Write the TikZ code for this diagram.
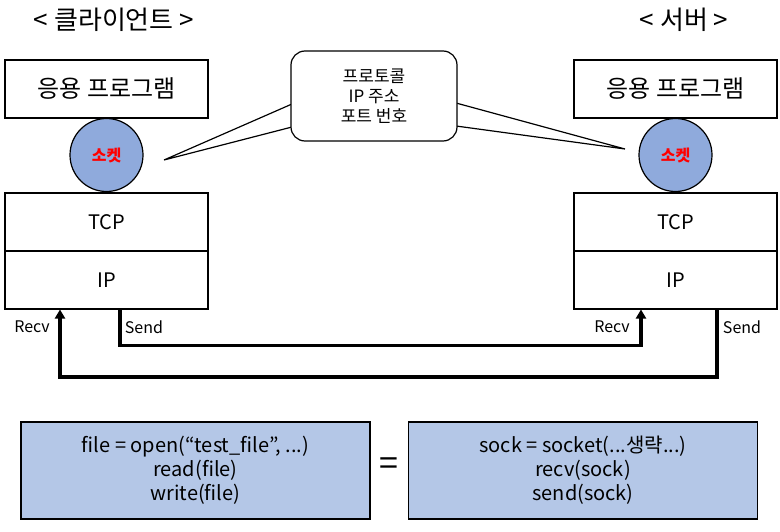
\documentclass[tikz,border=0pt]{standalone}
\usepackage{fontspec}
\setmainfont{Noto Sans CJK KR}
\usetikzlibrary{arrows.meta}
\definecolor{sockblue}{HTML}{8FAADC}
\definecolor{codeblue}{HTML}{B4C7E7}
\definecolor{sockred}{HTML}{FF0000}
\tikzset{
  layerbox/.style={draw=black, line width=1.2pt, minimum width=203pt, minimum height=58pt, inner sep=0pt, font=\fontsize{20}{24}\selectfont},
  korbox/.style={layerbox, font=\fontsize{24}{28}\selectfont},
  sockcircle/.style={circle, draw=black, line width=1.2pt, fill=sockblue, minimum size=73pt, inner sep=0pt, font=\bfseries\fontsize{16}{18}\selectfont, text=sockred},
  codebox/.style={draw=black, line width=1.2pt, fill=codeblue, minimum width=349pt, minimum height=97pt, inner sep=0pt, align=center, font=\fontsize{20}{24}\selectfont},
  titletext/.style={font=\fontsize{26}{30}\selectfont},
  lbl/.style={font=\fontsize{16}{18}\selectfont},
  flow/.style={line width=3.5pt, -{Triangle[length=9pt,width=10pt]}},
  callout/.style={draw=black, line width=1.2pt, fill=white, rounded corners=14pt, minimum width=166pt, minimum height=90pt, align=center, font=\fontsize{17}{20}\selectfont},
  tail/.style={draw=black, line width=1.2pt}
}
\begin{document}
\begin{tikzpicture}[x=1pt, y=-1pt]
\useasboundingbox (0,0) rectangle (780,532);
% titles
\node[titletext] (tc) at (114,20) {< 클라이언트 >};
\node[titletext] (ts) at (684,20) {< 서버 >};
% client stack
\node[korbox] (capp) at (106.5,89) {응용 프로그램};
\node[layerbox] (ctcp) at (106.5,222) {TCP};
\node[layerbox] (cip) at (106.5,280) {IP};
\node[sockcircle] (csock) at (106.5,155) {소켓};
% server stack
\node[korbox] (sapp) at (675.5,89) {응용 프로그램};
\node[layerbox] (stcp) at (675.5,222) {TCP};
\node[layerbox] (sip) at (675.5,280) {IP};
\node[sockcircle] (ssock) at (675.5,155) {소켓};
% callout tails
\coordinate (ctip) at (164,160);
\coordinate (stip) at (625,149);
\coordinate (cl1) at (292,104);
\coordinate (cl2) at (292,127);
\coordinate (cr1) at (456,103);
\coordinate (cr2) at (456,126);
\draw[tail] (cl1) -- (ctip) -- (cl2);
\draw[tail] (cr1) -- (stip) -- (cr2);
\node[callout] (info) at (374,96) {프로토콜\\IP 주소\\포트 번호};
% flow lines
\coordinate (csend) at (120,309.5);
\coordinate (crecv) at (60,309.5);
\coordinate (srecv) at (641,309.5);
\coordinate (ssend) at (717,309.5);
\draw[flow] (csend) |- (380,345.5) -| (srecv);
\draw[flow] (ssend) |- (380,377) -| (crecv);
\node[lbl] (lrc) at (32,327) {Recv};
\node[lbl] (lsc) at (144,327) {Send};
\node[lbl] (lrs) at (612,327) {Recv};
\node[lbl] (lss) at (742,327) {Send};
% code boxes
\node[codebox] (filebox) at (195.5,470.5) {file = open(“test\_file”, ...)\\read(file)\\write(file)};
\node[codebox] (sockbox) at (583,470.5) {sock = socket(...생략...)\\recv(sock)\\send(sock)};
\node[font=\fontsize{34}{34}\selectfont] (eq) at (389,467) {=};
\end{tikzpicture}
\end{document}
